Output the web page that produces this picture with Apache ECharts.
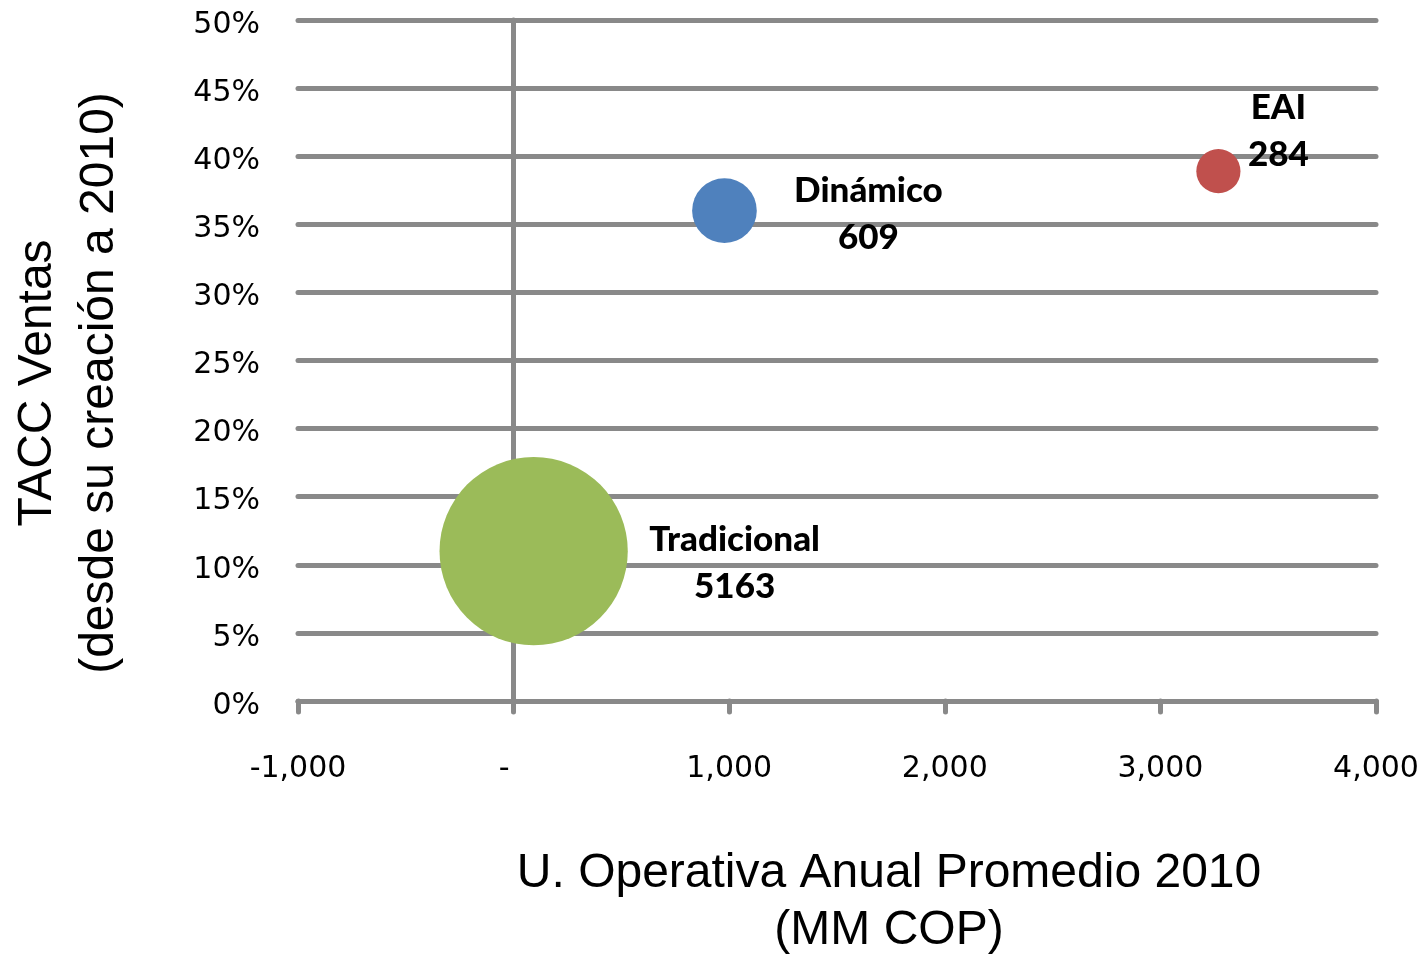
<!DOCTYPE html>
<html>
<head>
<meta charset="utf-8">
<title>TACC Ventas vs U. Operativa</title>
<script src="https://cdn.jsdelivr.net/npm/echarts@6/dist/echarts.min.js"></script>
<style>
  html, body { margin: 0; padding: 0; background: #fff; }
  #chart { width: 1425px; height: 956px; }
</style>
</head>
<body>
<div id="chart"></div>
<script>
// Datos
var segmentos = ['Tradicional', 'Dinámico', 'EAI'];
var utilidadOperativa = [93, 978, 3269];      // MM COP
var taccVentas = [11.0, 36.0, 38.9];          // %
var numEmpresas = [5163, 609, 284];           // tamano de la burbuja
var coloresSegmento = ['#9BBB59', '#4F81BD', '#C0504D'];

// Ejes
var xTicks = [-1000, 0, 1000, 2000, 3000, 4000];
var yTicks = [0, 5, 10, 15, 20, 25, 30, 35, 40, 45, 50];

// desplazamiento de etiquetas respecto al centro de cada burbuja
var etiquetaOffset = [[201, 12], [144, 4], [60, -40]];

var gris = '#898989';

var myChart = echarts.init(document.getElementById('chart'));

var puntos = segmentos.map(function (nombre, i) {
  return {
    name: nombre,
    value: [utilidadOperativa[i], taccVentas[i], numEmpresas[i]],
    itemStyle: { color: coloresSegmento[i], opacity: 1 },
    label: { offset: etiquetaOffset[i] }
  };
});

var option = {
  animation: false,
  grid: { left: 298, right: 49, top: 20, bottom: 255 },
  xAxis: {
    type: 'value',
    min: xTicks[0],
    max: xTicks[xTicks.length - 1],
    interval: 1000,
    axisLine: { show: true, onZero: false, lineStyle: { color: gris, width: 5, cap: 'round' } },
    axisTick: { show: true, length: 11, lineStyle: { color: gris, width: 5, cap: 'round' } },
    splitLine: { show: false },
    axisLabel: {
      margin: 53,
      color: '#000',
      fontFamily: 'DejaVu Sans',
      fontSize: 30,
      formatter: function (v) {
        if (v === 0) return '-  ';
        return v.toLocaleString('en-US');
      }
    }
  },
  yAxis: [
    {
      // linea vertical en x = 0
      type: 'value',
      min: yTicks[0],
      max: yTicks[yTicks.length - 1],
      interval: 5,
      axisLine: { show: true, onZero: true, lineStyle: { color: gris, width: 5 } },
      axisTick: { show: false },
      axisLabel: { show: false },
      splitLine: { show: false }
    },
    {
      type: 'value',
      position: 'left',
      min: yTicks[0],
      max: yTicks[yTicks.length - 1],
      interval: 5,
      axisLine: { show: false, onZero: false },
      axisTick: { show: false },
      splitLine: { show: true, lineStyle: { color: gris, width: 5, cap: 'round' } },
      axisLabel: {
        margin: 38,
        color: '#000',
        fontFamily: 'DejaVu Sans',
        fontSize: 30,
        verticalAlign: 'top',
        lineHeight: 10,
        formatter: '{value}%'
      }
    }
  ],
  series: [
    {
      type: 'scatter',
      yAxisIndex: 1,
      data: puntos,
      symbolSize: function (val) {
        // area proporcional al valor (como Excel)
        return 2.62 * Math.sqrt(val[2]);
      },
      label: {
        show: true,
        position: 'inside',
        align: 'center',
        verticalAlign: 'middle',
        color: '#000',
        opacity: 1,
        fontFamily: 'Lato',
        fontWeight: 900,
        fontSize: 35,
        lineHeight: 47,
        formatter: function (p) {
          return p.name + '\n' + p.value[2];
        }
      },
      emphasis: { disabled: true }
    }
  ],
  graphic: [
    {
      type: 'text',
      x: 889,
      y: 902,
      style: {
        text: 'U. Operativa Anual Promedio 2010\n(MM COP)',
        font: '48px "Liberation Sans", Arial, sans-serif',
        fill: '#000',
        align: 'center',
        verticalAlign: 'middle',
        lineHeight: 57
      }
    },
    {
      type: 'text',
      x: 69,
      y: 383,
      rotation: Math.PI / 2,
      style: {
        text: 'TACC Ventas\n(desde su creación a 2010)',
        font: '48px "Liberation Sans", Arial, sans-serif',
        fill: '#000',
        align: 'center',
        verticalAlign: 'middle',
        lineHeight: 62
      }
    }
  ]
};

myChart.setOption(option);
</script>
</body>
</html>
